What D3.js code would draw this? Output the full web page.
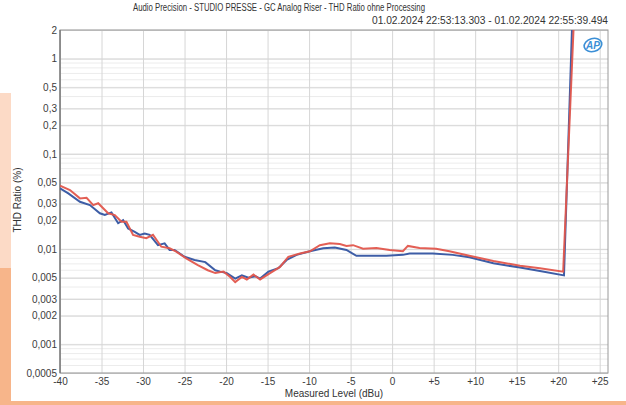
<!DOCTYPE html>
<html>
<head>
<meta charset="utf-8">
<script src="https://cdn.jsdelivr.net/npm/d3@7"></script>
<style>
  body { margin: 0; background: #fff; }
  svg { display: block; font-family: "Liberation Sans", Arial, sans-serif; }
  .tick text { fill: #3c3c3c; font-size: 10px; }
  .domain { display: none; }
</style>
</head>
<body>
<svg id="chart" width="626" height="405"></svg>
<script>
// Measured level (dBu) and THD ratio (%) for the two channels
var blueLevel = [-40, -39, -37.6, -36.4, -35.2, -34.6, -33.8, -33, -32.4, -31.8, -31, -30.4, -29.8, -29.2, -28.2, -27.4, -26.8, -26.2, -25, -23.8, -22.5, -21.3, -20.7, -19.9, -18.9, -18.1, -17.3, -16.5, -15.9, -14.9, -13.7, -12.7, -11.5, -9.9, -8.3, -6.9, -5.5, -4.3, -2.7, -0.7, 1.3, 2.1, 4.9, 7.3, 9.3, 12.2, 15.4, 17.8, 20.7, 21.7];
var blueThd = [0.0435, 0.0385, 0.0314, 0.029, 0.0238, 0.0228, 0.0243, 0.0187, 0.0202, 0.0165, 0.0152, 0.0141, 0.0146, 0.0141, 0.011, 0.0115, 0.0098, 0.0098, 0.0083, 0.0077, 0.0073, 0.006, 0.0058, 0.0056, 0.0049, 0.0053, 0.005, 0.0052, 0.0049, 0.0058, 0.0063, 0.0077, 0.0087, 0.0095, 0.0102, 0.0104, 0.0098, 0.0085, 0.0085, 0.0085, 0.0087, 0.009, 0.009, 0.0087, 0.0082, 0.0071, 0.0064, 0.0059, 0.0053, 2.6];

var redLevel = [-40, -38.8, -37.6, -36.8, -36, -35.4, -34.2, -33.4, -32.6, -32, -31.2, -30.4, -29.6, -28.8, -27.8, -26.8, -26, -24.8, -23.4, -22.2, -21.3, -20.3, -19.5, -18.9, -18.1, -17.5, -16.7, -15.9, -14.7, -13.5, -12.5, -11.1, -9.9, -8.7, -7.5, -6.3, -5.5, -4.7, -3.5, -1.9, -0.3, 1.3, 1.9, 3.3, 5.3, 6.9, 9.3, 12.2, 15.4, 17.8, 20.6, 21.9];
var redThd = [0.0463, 0.0417, 0.0341, 0.0346, 0.029, 0.0303, 0.0238, 0.0228, 0.0194, 0.0194, 0.0141, 0.0135, 0.013, 0.0141, 0.0106, 0.0102, 0.0094, 0.008, 0.0068, 0.006, 0.0056, 0.0058, 0.0051, 0.0045, 0.0051, 0.0048, 0.0054, 0.0048, 0.0056, 0.0065, 0.0083, 0.009, 0.0095, 0.011, 0.0115, 0.0113, 0.0108, 0.011, 0.0101, 0.0103, 0.0098, 0.0095, 0.0108, 0.0103, 0.0101, 0.0095, 0.0085, 0.0075, 0.0067, 0.0063, 0.0058, 2.6];

var xTicks = [-40, -35, -30, -25, -20, -15, -10, -5, 0, 5, 10, 15, 20, 25];
var xTickLabels = ["-40", "-35", "-30", "-25", "-20", "-15", "-10", "-5", "0", "+5", "+10", "+15", "+20", "+25"];
var yTicks = [2, 1, 0.5, 0.3, 0.2, 0.1, 0.05, 0.03, 0.02, 0.01, 0.005, 0.003, 0.002, 0.001, 0.0005];
var yTickLabels = ["2", "1", "0,5", "0,3", "0,2", "0,1", "0,05", "0,03", "0,02", "0,01", "0,005", "0,003", "0,002", "0,001", "0,0005"];

var titleText = "Audio Precision - STUDIO PRESSE - GC Analog Riser - THD Ratio ohne Processing";
var dateText = "01.02.2024 22:53:13.303 - 01.02.2024 22:55:39.494";

var svg = d3.select('#chart');

// page decoration from the magazine scan
svg.append('rect').attr('x', 0).attr('y', 93).attr('width', 11).attr('height', 176).attr('fill', '#fcdac6');
svg.append('rect').attr('x', 0).attr('y', 268).attr('width', 11).attr('height', 137).attr('fill', '#f7b58a');
svg.append('rect').attr('x', 0).attr('y', 401).attr('width', 626).attr('height', 4).attr('fill', '#f7b58a');

// plot box (don't call these top/left - window.top is read-only)
var pL = 60, pR = 608, pT = 30, pB = 373;

var x = d3.scaleLinear().domain([-40, 26]).range([pL, pR]);
var y = d3.scaleLog().domain([0.0005, 2]).range([pB, pT]);

// minor horizontal grid (1..9 per decade)
var minor = [];
for (var k = -4; k <= 0; k++) {
  for (var m = 1; m <= 9; m++) {
    var v = m * Math.pow(10, k);
    if (v >= 0.0005 && v <= 2) minor.push(v);
  }
}
svg.append('g').selectAll('line').data(minor).enter().append('line')
  .attr('x1', pL).attr('x2', pR)
  .attr('y1', function(d) { return y(d); })
  .attr('y2', function(d) { return y(d); })
  .attr('stroke', '#ececec').attr('stroke-width', 1);

// y axis + major grid
var yAxis = svg.append('g')
  .attr('transform', 'translate(' + pL + ',0)')
  .call(d3.axisLeft(y).tickValues(yTicks).tickSize(-(pR - pL)).tickPadding(3)
    .tickFormat(function(d, i) { return yTickLabels[i]; }));
yAxis.selectAll('.tick line').attr('stroke', '#d6d6d6');

// x axis + vertical grid
var xAxis = svg.append('g')
  .attr('transform', 'translate(0,' + pB + ')')
  .call(d3.axisBottom(x).tickValues(xTicks).tickSize(-(pB - pT)).tickPadding(5)
    .tickFormat(function(d, i) { return xTickLabels[i]; }));
xAxis.selectAll('.tick line').attr('stroke', '#d6d6d6');

// frame
svg.append('rect').attr('x', pL).attr('y', pT).attr('width', pR - pL).attr('height', pB - pT)
  .attr('fill', 'none').attr('stroke', '#9a9a9a').attr('stroke-width', 1);
svg.append('line').attr('x1', pL).attr('x2', pL).attr('y1', pT).attr('y2', pB)
  .attr('stroke', '#6e6e6e').attr('stroke-width', 1.2);

svg.append('clipPath').attr('id', 'plot').append('rect')
  .attr('x', pL).attr('y', pT).attr('width', pR - pL).attr('height', pB - pT);

var line = d3.line()
  .x(function(d) { return x(d[0]); })
  .y(function(d) { return y(d[1]); });

var plot = svg.append('g').attr('clip-path', 'url(#plot)');
plot.append('path')
  .datum(d3.zip(blueLevel, blueThd))
  .attr('d', line)
  .attr('fill', 'none').attr('stroke', '#3d5da6').attr('stroke-width', 2);
plot.append('path')
  .datum(d3.zip(redLevel, redThd))
  .attr('d', line)
  .attr('fill', 'none').attr('stroke', '#e2564c').attr('stroke-width', 2).attr('stroke-opacity', 0.95);

// titles
svg.append('text').attr('x', 133).attr('y', 11).attr('font-size', 10)
  .attr('textLength', 292).attr('lengthAdjust', 'spacingAndGlyphs')
  .attr('fill', '#333').text(titleText);
svg.append('text').attr('x', 372).attr('y', 24).attr('font-size', 10)
  .attr('textLength', 236).attr('lengthAdjust', 'spacingAndGlyphs')
  .attr('fill', '#333').text(dateText);

svg.append('text').attr('x', 334).attr('y', 397)
  .attr('text-anchor', 'middle').attr('font-size', 10).attr('fill', '#333')
  .text('Measured Level (dBu)');
svg.append('text').attr('transform', 'translate(21,200) rotate(-90)')
  .attr('text-anchor', 'middle').attr('font-size', 10).attr('fill', '#333')
  .text('THD Ratio (%)');

// AP logo
var logo = svg.append('g').attr('transform', 'translate(593,45)');
logo.append('ellipse').attr('rx', 9).attr('ry', 6.5).attr('fill', 'none')
  .attr('stroke', '#3b8fd6').attr('stroke-width', 1.6).attr('transform', 'rotate(-15)');
logo.append('text').attr('text-anchor', 'middle').attr('y', 4).attr('font-size', 10)
  .attr('font-weight', 'bold').attr('font-style', 'italic').attr('fill', '#3b8fd6').text('AP');
</script>
</body>
</html>
